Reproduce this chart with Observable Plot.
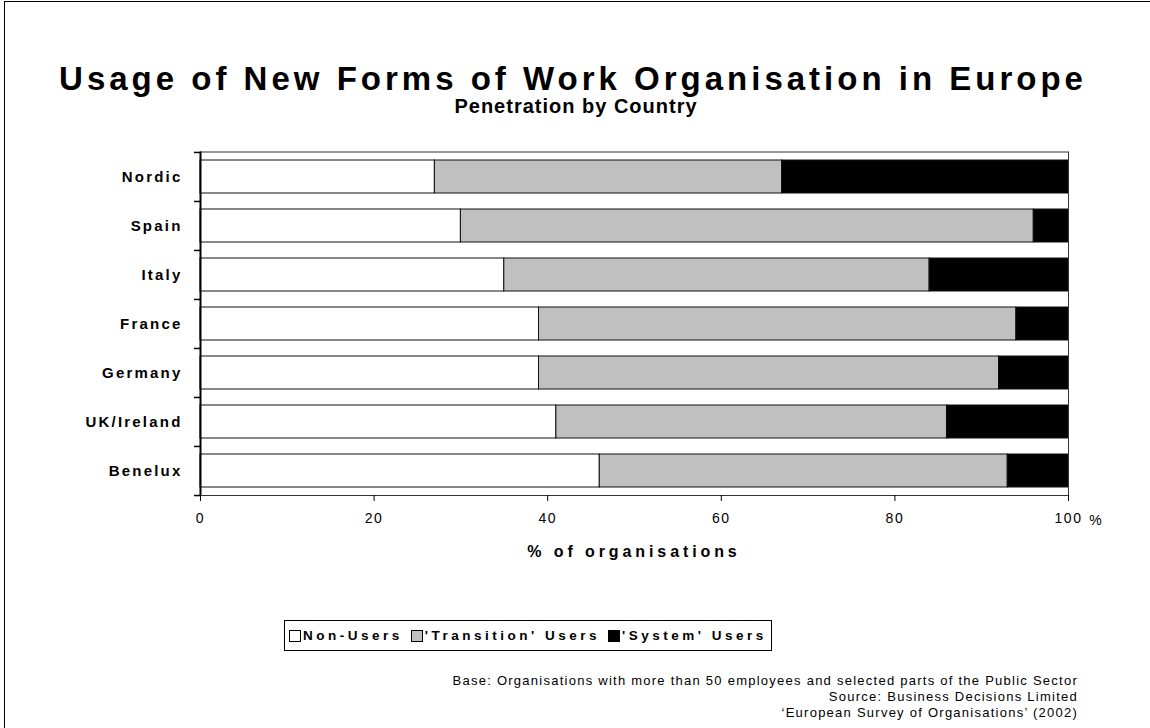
<!DOCTYPE html>
<html>
<head>
<meta charset="utf-8">
<script src="https://cdn.jsdelivr.net/npm/d3@7"></script>
<script src="https://cdn.jsdelivr.net/npm/@observablehq/plot@0.6"></script>
<style>
  html, body { margin: 0; padding: 0; background: #fff; }
  body { width: 1150px; height: 728px; overflow: hidden; position: relative; font-family: "Liberation Sans", Arial, sans-serif; color: #000; }
  #border { position: absolute; left: 4px; top: 1px; width: 1160px; height: 740px; border-left: 1px solid #000; border-top: 1px solid #000; }
  #title { position: absolute; left: 0; width: 1146px; top: 63px; text-align: center; font-size: 33px; font-weight: bold; letter-spacing: 4px; line-height: 32px; }
  #subtitle { position: absolute; left: 0; width: 1152px; top: 96px; text-align: center; font-size: 20px; font-weight: bold; letter-spacing: 1px; line-height: 20px; }
  #chart { position: absolute; left: 0; top: 0; }
  #xlabel { position: absolute; left: 200px; width: 868px; top: 543px; text-align: center; font-size: 16px; font-weight: bold; letter-spacing: 3.9px; }
  #legend { position: absolute; left: 284px; top: 620px; width: 482px; height: 29px; border: 1px solid #000; box-sizing: content-box; font-size: 13.5px; font-weight: bold; letter-spacing: 3.5px; display: flex; align-items: center; padding-left: 4px; white-space: nowrap; }
  #legend .sw { display: inline-block; width: 10px; height: 10px; border: 1px solid #000; margin-right: 2px; vertical-align: middle; }
  #legend .item { margin-right: 8px; display: inline-flex; align-items: center; }
  #caption { position: absolute; right: 72px; top: 673px; text-align: right; font-size: 13px; letter-spacing: 1.25px; line-height: 16px; }
  svg g[aria-label="y-axis tick label"] text { letter-spacing: 2.2px; }
  svg g[aria-label="x-axis tick label"] text { letter-spacing: 1.5px; }
</style>
</head>
<body>
<div id="border"></div>
<div id="title">Usage of New Forms of Work Organisation in Europe</div>
<div id="subtitle">Penetration by Country</div>
<div id="chart"></div>
<div id="xlabel">% of organisations</div>
<div id="legend"></div>
<div id="caption"></div>
<script>
// ---- data ----
const countries = ["Nordic", "Spain", "Italy", "France", "Germany", "UK/Ireland", "Benelux"];
const seriesNames = ["Non-Users", "'Transition' Users", "'System' Users"];
const nonUsers   = [27, 30, 35, 39, 39, 41, 46];
const transition = [40, 66, 49, 55, 53, 45, 47];
const systemUsers = [33, 4, 16, 6, 8, 14, 7];
const seriesColors = ["#ffffff", "#c0c0c0", "#000000"];
const xTicks = [0, 20, 40, 60, 80, 100];
const captionLines = [
  "Base: Organisations with more than 50 employees and selected parts of the Public Sector",
  "Source: Business Decisions Limited",
  "\u2018European Survey of Organisations\u2019 (2002)"
];

// ---- build table ----
const seriesValues = [nonUsers, transition, systemUsers];
const rows = [];
countries.forEach((c, i) => {
  seriesNames.forEach((s, j) => rows.push({country: c, series: s, value: seriesValues[j][i]}));
});

// ---- layout ----
const W = 1150, H = 580;
const mTop = 151.5, mBottom = 85, mLeft = 200, mRight = 82;
const plotH = H - mTop - mBottom;
const step = plotH / countries.length;

const chart = Plot.plot({
  width: W,
  height: H,
  marginTop: mTop,
  marginBottom: mBottom,
  marginLeft: mLeft,
  marginRight: mRight,
  style: {fontFamily: "'Liberation Sans', Arial, sans-serif", background: "transparent", overflow: "visible"},
  x: {domain: [0, 100], ticks: xTicks, label: null},
  y: {domain: countries, paddingInner: 0.32, paddingOuter: 0.16, label: null},
  color: {domain: seriesNames, range: seriesColors},
  marks: [
    Plot.barX(rows, Plot.stackX({y: "country", x: "value", fill: "series", stroke: "#111", strokeWidth: 1})),
    Plot.frame({stroke: "#333", strokeWidth: 1}),
    Plot.ruleX([0], {stroke: "#000", strokeWidth: 2}),
    Plot.ruleY(countries, {y: d => d, x1: -0.7, x2: 0, dy: -step / 2, stroke: "#000", strokeWidth: 1.5}),
    Plot.ruleY(countries.slice(-1), {y: d => d, x1: -0.7, x2: 0, dy: step / 2, stroke: "#000", strokeWidth: 1.5}),
    Plot.axisX({ticks: xTicks, tickSize: 6, tickPadding: 12, fontSize: 14, label: null, stroke: "#000"}),
    Plot.axisY({tickSize: 0, tickPadding: 18, fontSize: 15, fontWeight: "bold", label: null}),
    Plot.text(["%"], {x: 100, frameAnchor: "bottom", dy: 29, dx: 27, fontSize: 14, text: d => d})
  ]
});
document.getElementById("chart").appendChild(chart);

// legend
const legend = document.getElementById("legend");
seriesNames.forEach((s, j) => {
  const item = document.createElement("span");
  item.className = "item";
  const sw = document.createElement("span");
  sw.className = "sw";
  sw.style.background = seriesColors[j];
  item.appendChild(sw);
  item.appendChild(document.createTextNode(s));
  legend.appendChild(item);
});

// caption
const cap = document.getElementById("caption");
captionLines.forEach(l => { const d = document.createElement("div"); d.textContent = l; cap.appendChild(d); });
</script>
</body>
</html>
